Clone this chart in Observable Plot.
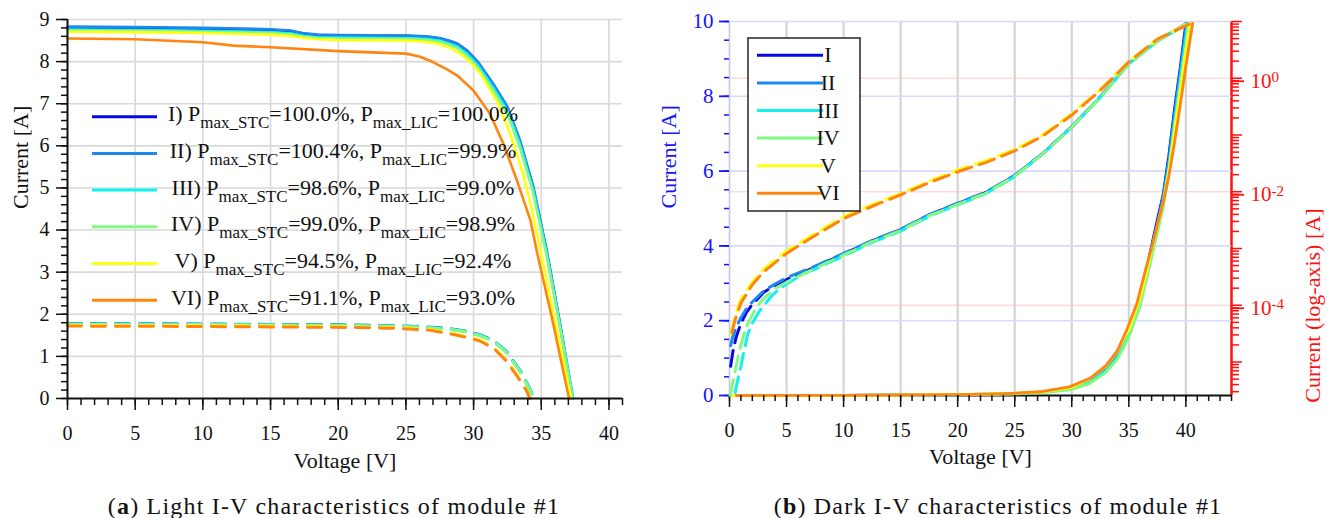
<!DOCTYPE html>
<html><head><meta charset="utf-8">
<script src="https://cdn.jsdelivr.net/npm/d3@7"></script>
<script src="https://cdn.jsdelivr.net/npm/@observablehq/plot@0.6"></script>
<style>
html,body{margin:0;padding:0;background:#fff;}
#page{position:relative;width:1331px;height:518px;overflow:hidden;font-family:"Liberation Serif","Times New Roman",serif;}
#page svg, #page svg text, #page svg tspan{font-family:"Liberation Serif","Times New Roman",serif !important;}
.layer{position:absolute;top:0;}
.layer svg{position:absolute;left:0;top:0;}
.cap{position:absolute;top:494px;text-align:center;font-size:24px;letter-spacing:1.2px;line-height:24px;color:#111;white-space:nowrap;}
</style></head><body>
<div id="page">
  <div id="left" class="layer" style="left:0;width:655px;height:470px"></div>
  <div id="right" class="layer" style="left:655px;width:676px;height:470px"></div>
  <div class="cap" style="left:0;width:668px">(<b>a</b>) Light I-V characteristics of module #1</div>
  <div class="cap" style="left:665px;width:666px">(<b>b</b>) Dark I-V characteristics of module #1</div>
</div>
<script>
// ---------- categories / labels ----------
const seriesNames = ["I", "II", "III", "IV", "V", "VI"];
const seriesColors = ["#0606ea", "#1e88f0", "#12f0f0", "#82fa82", "#ffff10", "#ff8410"];
const pmaxSTC = ["100.0", "100.4", "98.6", "99.0", "94.5", "91.1"];
const pmaxLIC = ["100.0", "99.9", "99.0", "98.9", "92.4", "93.0"];

// ---------- tick labels ----------
const lightTicksX = [0, 5, 10, 15, 20, 25, 30, 35, 40];
const lightTicksY = [0, 1, 2, 3, 4, 5, 6, 7, 8, 9];
const darkTicksX = [0, 5, 10, 15, 20, 25, 30, 35, 40];
const darkTicksY = [0, 2, 4, 6, 8, 10];
const darkLogLabels = [1, 1e-2, 1e-4];

// ---------- (a) light I-V, STC (solid) : [V, A] ----------
const stcI = [[0,8.81],[5,8.80],[10,8.78],[15,8.75],[16.5,8.72],[17.5,8.66],[18.5,8.63],[20,8.62],[25,8.61],[26.5,8.59],[27.5,8.55],[28.3,8.48],[28.8,8.42],[29.5,8.26],[30.3,7.99],[31.4,7.48],[32.5,6.90],[33.4,6.13],[34.4,5.00],[35.4,3.48],[36.4,1.72],[37.3,0]];
const stcII = [[0,8.83],[5,8.82],[10,8.80],[15,8.77],[16.5,8.74],[17.5,8.67],[18.5,8.64],[20,8.63],[25,8.62],[26.5,8.60],[27.5,8.56],[28.3,8.49],[28.8,8.43],[29.5,8.27],[30.3,8.00],[31.4,7.50],[32.5,6.93],[33.4,6.16],[34.4,5.05],[35.4,3.52],[36.4,1.76],[37.35,0]];
const stcIII = [[0,8.76],[5,8.75],[10,8.73],[15,8.70],[16.5,8.67],[17.5,8.61],[18.5,8.58],[20,8.57],[25,8.56],[26.5,8.54],[27.5,8.50],[28.3,8.42],[28.8,8.36],[29.5,8.19],[30.3,7.92],[31.4,7.41],[32.5,6.83],[33.4,6.06],[34.4,4.95],[35.4,3.44],[36.4,1.70],[37.35,0]];
const stcIV = [[0,8.74],[5,8.73],[10,8.71],[15,8.68],[16.5,8.65],[17.5,8.59],[18.5,8.56],[20,8.55],[25,8.54],[26.5,8.52],[27.5,8.47],[28.3,8.39],[28.8,8.32],[29.5,8.14],[30.3,7.86],[31.4,7.34],[32.5,6.75],[33.4,5.98],[34.4,4.88],[35.4,3.38],[36.4,1.66],[37.3,0]];
const stcV = [[0,8.71],[5,8.70],[10,8.68],[15,8.64],[16.5,8.61],[17.5,8.56],[18.5,8.53],[20,8.51],[25,8.50],[26.5,8.47],[27.5,8.41],[28.3,8.32],[29,8.19],[29.8,7.98],[30.5,7.72],[31.7,7.08],[32.7,6.29],[33.65,5.34],[34.3,4.50],[34.95,3.50],[36.1,1.70],[37.2,0]];
const stcVI = [[0,8.55],[5,8.53],[10,8.46],[12.25,8.38],[15,8.34],[20,8.25],[25,8.19],[26,8.12],[27,7.99],[28,7.82],[28.8,7.67],[30,7.31],[31.2,6.77],[32.2,6.05],[33.2,5.18],[34.2,4.23],[34.7,3.45],[35.9,1.75],[37.05,0]];

// ---------- (a) light I-V, low irradiance (dashed) ----------
const licI = [[0,1.77],[10,1.76],[20,1.74],[24,1.72],[26,1.70],[28,1.66],[29.3,1.60],[30.5,1.50],[31.5,1.36],[32.45,1.10],[33.5,0.62],[34.1,0.25],[34.45,0]];
const licII = [[0,1.78],[10,1.77],[20,1.75],[24,1.73],[26,1.71],[28,1.67],[29.3,1.61],[30.5,1.51],[31.5,1.37],[32.45,1.11],[33.5,0.63],[34.1,0.26],[34.47,0]];
const licIII = [[0,1.77],[10,1.76],[20,1.74],[24,1.72],[26,1.70],[28,1.66],[29.3,1.60],[30.5,1.50],[31.5,1.36],[32.45,1.10],[33.5,0.62],[34.1,0.25],[34.45,0]];
const licIV = [[0,1.76],[10,1.75],[20,1.73],[24,1.71],[26,1.69],[28,1.65],[29.3,1.59],[30.5,1.49],[31.5,1.35],[32.45,1.09],[33.5,0.61],[34.1,0.24],[34.43,0]];
const licV = [[0,1.74],[10,1.73],[20,1.71],[24,1.69],[26.8,1.64],[28,1.57],[28.8,1.52],[29.8,1.45],[30.5,1.38],[31.5,1.21],[32.45,0.90],[33.2,0.56],[33.9,0.20],[34.2,0]];
const licVI = [[0,1.72],[10,1.71],[20,1.69],[24,1.67],[26.8,1.62],[28,1.55],[28.8,1.50],[29.8,1.43],[30.5,1.36],[31.5,1.19],[32.45,0.88],[33.2,0.54],[33.9,0.19],[34.15,0]];

// ---------- (b) dark I-V, linear axis (solid) ----------
const darkI = [[0,0],[10,0.004],[20,0.02],[25,0.05],[27.5,0.09],[30,0.19],[31.5,0.36],[33,0.70],[34,1.08],[35,1.68],[36,2.60],[36.6,3.45],[37,4.00],[37.5,4.70],[38,5.35],[38.5,6.40],[39,7.65],[39.5,8.75],[40,9.95]];
const darkII = [[0,0],[10,0.004],[20,0.02],[25,0.05],[27.5,0.09],[30,0.19],[31.5,0.36],[33,0.69],[34,1.06],[35,1.66],[36,2.56],[36.6,3.40],[37,3.95],[37.5,4.62],[38,5.30],[38.5,6.30],[39,7.55],[39.5,8.65],[40.05,9.95]];
const darkIII = [[0,0],[10,0.004],[20,0.02],[25,0.05],[27.5,0.09],[30,0.18],[31.5,0.34],[33,0.66],[34,1.02],[35,1.60],[36,2.48],[36.6,3.30],[37,3.82],[37.5,4.50],[38,5.15],[38.5,6.10],[39,7.30],[39.5,8.45],[40.15,9.95]];
const darkIV = [[0,0],[10,0.003],[20,0.015],[25,0.04],[27.5,0.08],[30,0.16],[31.5,0.31],[33,0.62],[34,0.97],[35,1.55],[36,2.40],[36.6,3.18],[37,3.68],[37.5,4.35],[38,5.00],[38.5,5.90],[39,7.05],[39.5,8.15],[40.4,9.95]];
const darkV = [[0,0],[10,0.005],[20,0.025],[25,0.06],[27.5,0.10],[30,0.22],[31.5,0.43],[33,0.78],[34,1.18],[35,1.76],[36,2.62],[36.6,3.38],[37,3.90],[37.5,4.52],[38,5.15],[38.5,6.00],[39,7.10],[39.5,8.20],[40.3,9.95]];
const darkVI = [[0.6,0],[10,0.005],[20,0.025],[22.8,0.035],[25,0.06],[27.2,0.10],[29.8,0.23],[31.6,0.46],[33,0.80],[34,1.20],[34.8,1.74],[35.7,2.45],[36.5,3.40],[37,3.95],[37.5,4.55],[38,5.15],[38.5,5.85],[39,6.75],[39.5,7.75],[40,8.80],[40.6,9.95]];

// ---------- (b) dark I-V, log axis (dashed) ----------
const logI = [[0.1,8.4e-6],[0.3,1.54e-5],[0.6,2.82e-5],[1,4.8e-5],[1.5,7.6e-5],[2,1.03e-4],[3,1.69e-4],[4,2.26e-4],[5,2.84e-4],[7.5,4.7e-4],[10,8.0e-4],[12.5,1.36e-3],[15,2.14e-3],[17.5,3.9e-3],[20,6.2e-3],[22.5,9.7e-3],[25,1.93e-2],[27.5,4.8e-2],[30,0.139],[32.5,0.467],[35,1.83],[37.5,4.55],[40,9.0]];
const logII = [[0.1,1.94e-5],[0.3,2.82e-5],[0.6,4.13e-5],[1,6.04e-5],[1.5,8.83e-5],[2,1.14e-4],[3,1.8e-4],[4,2.37e-4],[5,3.06e-4],[7.5,4.9e-4],[10,8.2e-4],[12.5,1.38e-3],[15,2.18e-3],[17.5,3.95e-3],[20,6.3e-3],[22.5,9.9e-3],[25,1.95e-2],[27.5,4.8e-2],[30,0.14],[32.5,0.47],[35,1.83],[37.5,4.55],[40,9.0]];
const logIII = [[0.5,2.9e-6],[0.7,4.58e-6],[1,8.4e-6],[1.3,1.66e-5],[1.6,3.1e-5],[2,4.8e-5],[2.6,7.8e-5],[3.8,1.55e-4],[5,2.37e-4],[6.4,3.5e-4],[7.5,4.35e-4],[10,7.4e-4],[12.5,1.28e-3],[15,2.02e-3],[17.5,3.7e-3],[20,5.9e-3],[22.5,9.3e-3],[25,1.86e-2],[27.5,4.7e-2],[30,0.137],[32.5,0.46],[35,1.8],[37.5,4.5],[40,9.0]];
const logIV = [[0.05,2.6e-6],[0.3,4.6e-6],[0.55,7.9e-6],[0.85,1.54e-5],[1.4,3.95e-5],[2.3,8.8e-5],[3,1.33e-4],[4,1.97e-4],[5,2.55e-4],[7.5,4.48e-4],[10,7.7e-4],[12.5,1.32e-3],[15,2.08e-3],[17.5,3.8e-3],[20,6.0e-3],[22.5,9.5e-3],[25,1.9e-2],[27.5,4.75e-2],[30,0.138],[32.5,0.46],[35,1.8],[37.5,4.5],[40,8.9]];
const logV = [[0.1,3.1e-5],[0.5,6.5e-5],[1,1.29e-4],[2,2.55e-4],[3,4.35e-4],[5,9.0e-4],[7.5,1.84e-3],[10,3.63e-3],[12.5,5.9e-3],[15,9.3e-3],[17.5,1.54e-2],[20,2.42e-2],[22.5,3.54e-2],[25,5.57e-2],[27.5,0.102],[30,0.236],[32.5,0.632],[35,1.97],[37.5,4.9],[40,8.7]];
const logVI = [[0.2,3.3e-5],[0.5,5.6e-5],[1,1.1e-4],[2,2.3e-4],[3,3.9e-4],[5,8.2e-4],[7.5,1.7e-3],[10,3.37e-3],[12.5,5.55e-3],[15,8.8e-3],[17.5,1.45e-2],[20,2.25e-2],[22.5,3.3e-2],[25,5.25e-2],[27.5,9.7e-2],[30,0.225],[32.5,0.61],[35,1.94],[37.5,4.9],[40.3,9.0]];

// ---------- build tidy tables ----------
const tidy = (groups) => groups.flatMap((pts, k) => pts.map(([v, i]) => ({series: seriesNames[k], v, i})));
const lightSTC = tidy([stcI, stcII, stcIII, stcIV, stcV, stcVI]);
const lightLIC = tidy([licI, licII, licIII, licIV, licV, licVI]);
const darkLin = tidy([darkI, darkII, darkIII, darkIV, darkV, darkVI]);
const darkLog = tidy([logI, logII, logIII, logIV, logV, logVI]);

const FONT = '"Liberation Serif", "Times New Roman", serif';
const INK = "#111";
const BLUE = "#1414ff";
const RED = "#ff1010";
const color = {domain: seriesNames, range: seriesColors};
const blank = () => "";
const r1 = (a) => a.map(d => +d.toFixed(2));

// ================= (a) LIGHT =================
const light = Plot.plot({
  width: 655, height: 470,
  marginLeft: 67, marginRight: 33, marginTop: 19, marginBottom: 72,
  style: {fontFamily: FONT, fontSize: "20px", color: INK, background: "white", overflow: "visible"},
  x: {domain: [0, 41], axis: null},
  y: {domain: [0, 9], axis: null},
  color,
  marks: [
    Plot.gridX({ticks: lightTicksX.filter(d => d > 0), stroke: "#d9d9d9", strokeOpacity: 1, strokeWidth: 1.6}),
    Plot.gridY({ticks: lightTicksY.filter(d => d > 0), stroke: "#d9d9d9", strokeOpacity: 1, strokeWidth: 1.6}),
    Plot.line(lightLIC, {x: "v", y: "i", z: "series", stroke: "series", strokeWidth: 3, strokeDasharray: "14,10"}),
    Plot.line(lightSTC, {x: "v", y: "i", z: "series", stroke: "series", strokeWidth: 2.6}),
    Plot.ruleY([0], {stroke: INK, strokeWidth: 2}),
    Plot.ruleX([0], {stroke: INK, strokeWidth: 2}),
    Plot.axisX({ticks: d3.range(0, 42, 1), tickSize: 7, tickFormat: blank, label: null, strokeWidth: 1.5}),
    Plot.axisX({ticks: lightTicksX, tickSize: 12, tickPadding: 15, label: null, fontSize: 20, fontFamily: FONT, strokeWidth: 1.5}),
    Plot.axisY({ticks: r1(d3.range(0, 9.01, 0.2)), tickSize: 6, tickFormat: blank, label: null, strokeWidth: 1.5}),
    Plot.axisY({ticks: lightTicksY, tickSize: 11, tickPadding: 7, label: null, fontSize: 20, fontFamily: FONT, strokeWidth: 1.5}),
    Plot.text(["Voltage [V]"], {text: d => d, frameAnchor: "bottom", lineAnchor: "bottom", dy: 69, fontSize: 22, fontFamily: FONT}),
    Plot.text(["Current [A]"], {text: d => d, frameAnchor: "left", rotate: -90, dx: -47, fontSize: 22, fontFamily: FONT})
  ]
});
document.getElementById("left").appendChild(light);

// legend (a)
{
  const g = d3.select(light).append("g").attr("font-family", FONT).attr("fill", INK);
  const top = 116.7, step = 36.7;
  seriesNames.forEach((name, k) => {
    const y = top + k * step;
    g.append("line").attr("x1", 92).attr("x2", 157).attr("y1", y).attr("y2", y)
      .attr("stroke", seriesColors[k]).attr("stroke-width", 3);
    const t = g.append("text").attr("x", 343).attr("y", y + 4.5).attr("text-anchor", "middle").attr("font-size", 22);
    t.append("tspan").text(`${name}) P`);
    t.append("tspan").attr("dy", 7).attr("font-size", 17).text("max_STC");
    t.append("tspan").attr("dy", -7).text(`=${pmaxSTC[k]}%, P`);
    t.append("tspan").attr("dy", 7).attr("font-size", 17).text("max_LIC");
    t.append("tspan").attr("dy", -7).text(`=${pmaxLIC[k]}%`);
  });
}

// ================= (b) DARK =================
const frame = {width: 676, height: 470, marginLeft: 74, marginRight: 100, marginTop: 21, marginBottom: 75};
const logDomain = [2.57e-6, 10];
const decades = [1e-5, 1e-4, 1e-3, 1e-2, 1e-1, 1, 10];
const logMinor = [1e-6, 1e-5, 1e-4, 1e-3, 1e-2, 1e-1, 1]
  .flatMap(d => [2, 3, 4, 5, 6, 7, 8, 9].map(m => m * d))
  .filter(v => v >= logDomain[0] && v <= logDomain[1]);

// bottom layer: log grid + red axis
const darkBase = Plot.plot({
  ...frame,
  style: {fontFamily: FONT, fontSize: "20px", color: INK, background: "white", overflow: "visible"},
  x: {domain: [0, 44], axis: null},
  y: {type: "log", domain: logDomain, axis: null},
  marks: [
    Plot.gridY({ticks: darkLogLabels, stroke: "#ffd9d9", strokeOpacity: 1, strokeWidth: 1.6}),
    Plot.axisY({anchor: "right", ticks: logMinor, tickSize: 7, tickFormat: blank, label: null, color: RED, strokeWidth: 1.5}),
    Plot.axisY({anchor: "right", ticks: decades, tickSize: 10, tickFormat: blank, label: null, color: RED, strokeWidth: 1.5}),
    Plot.axisY({anchor: "right", ticks: darkLogLabels, tickSize: 12, tickPadding: 7, dy: 3, label: null, color: RED, strokeWidth: 1.8,
      fontSize: 21, fontFamily: FONT, tickFormat: d => "10^" + Math.round(Math.log10(d))}),
    Plot.ruleX([44], {stroke: RED, strokeWidth: 2.5}),
    Plot.text(["Current (log-axis) [A]"], {text: d => d, frameAnchor: "right", rotate: -90, dx: 81, fill: RED, fontSize: 22, fontFamily: FONT})
  ]
});
// superscripts for 10^n labels
d3.select(darkBase).selectAll("text").each(function () {
  if (this.childElementCount) return;
  const s = this.textContent;
  if (!s.includes("^")) return;
  const [b, e] = s.split("^");
  this.textContent = b;
  d3.select(this).append("tspan").attr("dy", "-0.38em").attr("font-size", "0.72em").text(e);
});

// middle layer: linear axes + solid curves
const darkMid = Plot.plot({
  ...frame,
  style: {fontFamily: FONT, fontSize: "20px", color: INK, background: "transparent", overflow: "visible"},
  x: {domain: [0, 44], axis: null},
  y: {domain: [0, 10], axis: null},
  color,
  marks: [
    Plot.gridX({ticks: darkTicksX.filter(d => d > 0), stroke: "#d4d4d4", strokeOpacity: 1, strokeWidth: 2.2}),
    Plot.gridY({ticks: darkTicksY.filter(d => d > 0), stroke: "#d9d9ff", strokeOpacity: 1, strokeWidth: 1.6}),
    Plot.ruleX([0], {stroke: "#c6c6f0", strokeWidth: 1.6}),
    Plot.ruleY([0], {stroke: INK, strokeWidth: 2}),
    Plot.line(darkLin, {x: "v", y: "i", z: "series", stroke: "series", strokeWidth: 2.8}),
    Plot.axisX({ticks: d3.range(0, 45, 1), tickSize: 6, tickFormat: blank, label: null, strokeWidth: 1.5}),
    Plot.axisX({ticks: darkTicksX, tickSize: 12, tickPadding: 15, label: null, fontSize: 20, fontFamily: FONT, strokeWidth: 1.5}),
    Plot.axisY({ticks: r1(d3.range(0, 10.01, 0.5)), tickSize: 5, tickFormat: blank, label: null, color: BLUE, strokeWidth: 1.5}),
    Plot.axisY({ticks: darkTicksY, tickSize: 10, tickPadding: 6, label: null, color: BLUE, fontSize: 21, fontFamily: FONT, strokeWidth: 1.8}),
    Plot.text(["Voltage [V]"], {text: d => d, frameAnchor: "bottom", lineAnchor: "bottom", dy: 68, fontSize: 22, fontFamily: FONT}),
    Plot.text(["Current [A]"], {text: d => d, frameAnchor: "left", rotate: -90, dx: -61, fill: BLUE, fontSize: 22, fontFamily: FONT})
  ]
});

// top layer: log dashed curves + legend
const darkTop = Plot.plot({
  ...frame,
  style: {fontFamily: FONT, fontSize: "20px", color: INK, background: "transparent", overflow: "visible"},
  x: {domain: [0, 44], axis: null},
  y: {type: "log", domain: logDomain, axis: null},
  color,
  marks: [
    Plot.line(darkLog, {x: "v", y: "i", z: "series", stroke: "series", strokeWidth: 3, strokeDasharray: "16,8"})
  ]
});
{
  const g = d3.select(darkTop).append("g").attr("font-family", FONT).attr("fill", INK);
  g.append("rect").attr("x", 93).attr("y", 38).attr("width", 112).attr("height", 173)
    .attr("fill", "white").attr("stroke", "#333").attr("stroke-width", 1.6);
  const top = 55.3, step = 27.6;
  seriesNames.forEach((name, k) => {
    const y = top + k * step;
    g.append("line").attr("x1", 102).attr("x2", 168).attr("y1", y).attr("y2", y)
      .attr("stroke", seriesColors[k]).attr("stroke-width", 3);
    g.append("text").attr("x", 173).attr("y", y + 7).attr("font-size", 22).text(name);
  });
}

const right = document.getElementById("right");
right.appendChild(darkBase);
right.appendChild(darkMid);
right.appendChild(darkTop);
</script>
</body></html>
